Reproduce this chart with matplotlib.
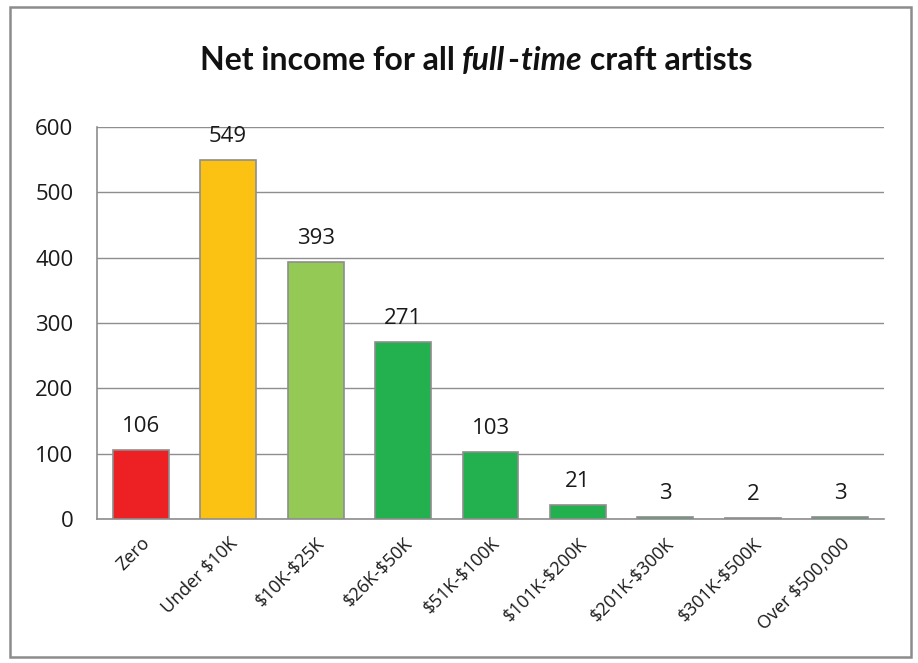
import matplotlib
matplotlib.use("Agg")
import matplotlib.pyplot as plt
from matplotlib.patches import Rectangle
from matplotlib.transforms import ScaledTranslation

categories = ["Zero", "Under $10K", "$10K-$25K", "$26K-$50K", "$51K-$100K",
              "$101K-$200K", "$201K-$300K", "$301K-$500K", "Over $500,000"]
values = [106, 549, 393, 271, 103, 21, 3, 2, 3]
colors = ["#ED2024", "#FBC213", "#93C954", "#22B14E", "#22B14E",
          "#22B14E", "#22B14E", "#22B14E", "#22B14E"]
yticks = [0, 100, 200, 300, 400, 500, 600]

plt.rcParams['font.family'] = ['Open Sans', 'DejaVu Sans']
plt.rcParams['text.parse_math'] = False

W, H = 918, 663
fig = plt.figure(figsize=(W / 100, H / 100), dpi=100)
fig.patch.set_facecolor("white")
fig.add_artist(Rectangle((10 / W, 1 - 657 / H), 901 / W, 650 / H, transform=fig.transFigure,
                         fill=False, edgecolor="#8C8C8C", linewidth=1.8))

ax = fig.add_axes([97 / W, 1 - 519 / H, (884 - 97) / W, (519 - 127) / H])
x = list(range(len(categories)))
ax.bar(x, values, width=0.64, color=colors, edgecolor="#8E8E8E", linewidth=1.2, zorder=3)
for xi, v in zip(x, values):
    ax.annotate(str(v), (xi, v), xytext=(0, 13), textcoords="offset points",
                ha="center", va="baseline", fontsize=16, color="#1A1A1A")

ax.set_xlim(-0.5, len(categories) - 0.5)
ax.set_ylim(0, 600)
ax.set_yticks(yticks)
ax.set_yticklabels([str(t) for t in yticks], fontsize=16, color="#1A1A1A")
ax.set_xticks(x)
ax.set_xticklabels(categories, rotation=45, ha="right", rotation_mode="anchor",
                   fontsize=13, color="#1A1A1A")
shift = ScaledTranslation(4 / 100, 0, fig.dpi_scale_trans)
for lbl in ax.get_xticklabels():
    lbl.set_transform(lbl.get_transform() + shift)
ax.tick_params(axis="x", length=0, pad=11)
ax.tick_params(axis="y", length=0, pad=17)
ax.grid(axis="y", color="#8E8E8E", linewidth=1.0, zorder=0)
for s in ["top", "right"]:
    ax.spines[s].set_visible(False)
for s in ["left", "bottom"]:
    ax.spines[s].set_color("#8E8E8E")
    ax.spines[s].set_linewidth(1.2)

# Title composed of bold and bold-italic pieces
pieces = [("Net income for all ", "normal", 0), ("full", "italic", 2), ("-", "normal", 2),
          ("time", "italic", 0), (" craft artists", "normal", 0)]
fs = 23
renderer = fig.canvas.get_renderer()
texts = []
for s, style, _ in pieces:
    t = fig.text(0, 1 - 70 / H, s, fontsize=fs, fontweight="bold", style=style,
                 family=["Lato", "DejaVu Sans"], ha="left", va="baseline", color="#111111")
    texts.append(t)
widths = [t.get_window_extent(renderer=renderer).width for t in texts]
advances = [w + gap for w, (_, _, gap) in zip(widths, pieces)]
total = sum(advances)
xpos = 476 - total / 2
for t, adv in zip(texts, advances):
    t.set_x(xpos / W)
    xpos += adv

fig.savefig("out.png", dpi=100)
